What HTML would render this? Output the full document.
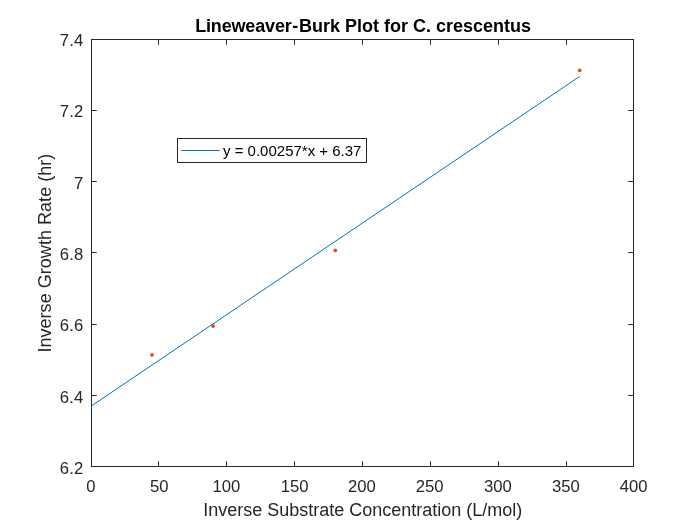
<!DOCTYPE html><html><head><meta charset="utf-8"><title>Lineweaver-Burk Plot</title><style>html,body{margin:0;padding:0;background:#fff}svg{display:block}text{font-family:"Liberation Sans",Arial,sans-serif}</style></head><body>
<svg width="700" height="525" viewBox="0 0 700 525">
<rect width="700" height="525" fill="#fff"/>
<g stroke="#262626" stroke-width="1" fill="none">
<rect x="91.5" y="39.5" width="542.0" height="427.0" shape-rendering="crispEdges"/>
<line x1="91.5" y1="466.5" x2="91.5" y2="461.25"/>
<line x1="91.5" y1="39.5" x2="91.5" y2="44.75"/>
<line x1="158.5" y1="466.5" x2="158.5" y2="461.25"/>
<line x1="158.5" y1="39.5" x2="158.5" y2="44.75"/>
<line x1="226.5" y1="466.5" x2="226.5" y2="461.25"/>
<line x1="226.5" y1="39.5" x2="226.5" y2="44.75"/>
<line x1="294.5" y1="466.5" x2="294.5" y2="461.25"/>
<line x1="294.5" y1="39.5" x2="294.5" y2="44.75"/>
<line x1="362.5" y1="466.5" x2="362.5" y2="461.25"/>
<line x1="362.5" y1="39.5" x2="362.5" y2="44.75"/>
<line x1="430.5" y1="466.5" x2="430.5" y2="461.25"/>
<line x1="430.5" y1="39.5" x2="430.5" y2="44.75"/>
<line x1="498.5" y1="466.5" x2="498.5" y2="461.25"/>
<line x1="498.5" y1="39.5" x2="498.5" y2="44.75"/>
<line x1="566.5" y1="466.5" x2="566.5" y2="461.25"/>
<line x1="566.5" y1="39.5" x2="566.5" y2="44.75"/>
<line x1="633.5" y1="466.5" x2="633.5" y2="461.25"/>
<line x1="633.5" y1="39.5" x2="633.5" y2="44.75"/>
<line x1="91.5" y1="466.5" x2="96.75" y2="466.5"/>
<line x1="633.5" y1="466.5" x2="628.25" y2="466.5"/>
<line x1="91.5" y1="395.5" x2="96.75" y2="395.5"/>
<line x1="633.5" y1="395.5" x2="628.25" y2="395.5"/>
<line x1="91.5" y1="324.5" x2="96.75" y2="324.5"/>
<line x1="633.5" y1="324.5" x2="628.25" y2="324.5"/>
<line x1="91.5" y1="252.5" x2="96.75" y2="252.5"/>
<line x1="633.5" y1="252.5" x2="628.25" y2="252.5"/>
<line x1="91.5" y1="181.5" x2="96.75" y2="181.5"/>
<line x1="633.5" y1="181.5" x2="628.25" y2="181.5"/>
<line x1="91.5" y1="110.5" x2="96.75" y2="110.5"/>
<line x1="633.5" y1="110.5" x2="628.25" y2="110.5"/>
<line x1="91.5" y1="39.5" x2="96.75" y2="39.5"/>
<line x1="633.5" y1="39.5" x2="628.25" y2="39.5"/>
</g>
<g fill="#262626" font-size="16.67px">
<text x="91.0" y="492" text-anchor="middle">0</text>
<text x="159.35" y="492" text-anchor="middle">50</text>
<text x="226.5" y="492" text-anchor="middle">100</text>
<text x="294.7" y="492" text-anchor="middle">150</text>
<text x="362.0" y="492" text-anchor="middle">200</text>
<text x="429.75" y="492" text-anchor="middle">250</text>
<text x="497.8" y="492" text-anchor="middle">300</text>
<text x="565.85" y="492" text-anchor="middle">350</text>
<text x="633.6" y="492" text-anchor="middle">400</text>
<text x="83.5" y="473.7" text-anchor="end" letter-spacing="0.2">6.2</text>
<text x="83.5" y="402.7" text-anchor="end" letter-spacing="0.2">6.4</text>
<text x="83.5" y="330.7" text-anchor="end" letter-spacing="0.2">6.6</text>
<text x="83.5" y="259.7" text-anchor="end" letter-spacing="0.2">6.8</text>
<text x="83.5" y="188.7" text-anchor="end" letter-spacing="0.2">7</text>
<text x="83.5" y="116.7" text-anchor="end" letter-spacing="0.2">7.2</text>
<text x="83.5" y="45.7" text-anchor="end" letter-spacing="0.2">7.4</text>
</g>
<text x="362.8" y="516" text-anchor="middle" font-size="18px" fill="#262626">Inverse Substrate Concentration (L/mol)</text>
<text transform="translate(51,253.1) rotate(-90)" text-anchor="middle" font-size="18px" letter-spacing="0.04" fill="#262626">Inverse Growth Rate (hr)</text>
<text x="363.1" y="32" text-anchor="middle" font-size="18px" font-weight="bold" fill="#000"><tspan letter-spacing="-0.16">Lineweaver</tspan><tspan dx="0.7">-</tspan><tspan dx="0.7">Burk Plot for C. crescentus</tspan></text>
<line x1="91.2" y1="406.1" x2="579.7" y2="76.4" stroke="#0072BD" stroke-width="1"/>
<circle cx="152.0" cy="354.9" r="1.9" fill="#D95319"/>
<circle cx="213.1" cy="326.0" r="1.9" fill="#D95319"/>
<circle cx="335.3" cy="250.4" r="1.9" fill="#D95319"/>
<circle cx="579.7" cy="70.3" r="1.9" fill="#D95319"/>
<rect x="177.5" y="138.5" width="189" height="24" fill="#fff" stroke="#262626" stroke-width="1" shape-rendering="crispEdges"/>
<line x1="181.3" y1="150.5" x2="219.7" y2="150.5" stroke="#0072BD" stroke-width="1"/>
<text x="223" y="155.5" font-size="15px" fill="#000">y = 0.00257*x + 6.37</text>
</svg></body></html>
